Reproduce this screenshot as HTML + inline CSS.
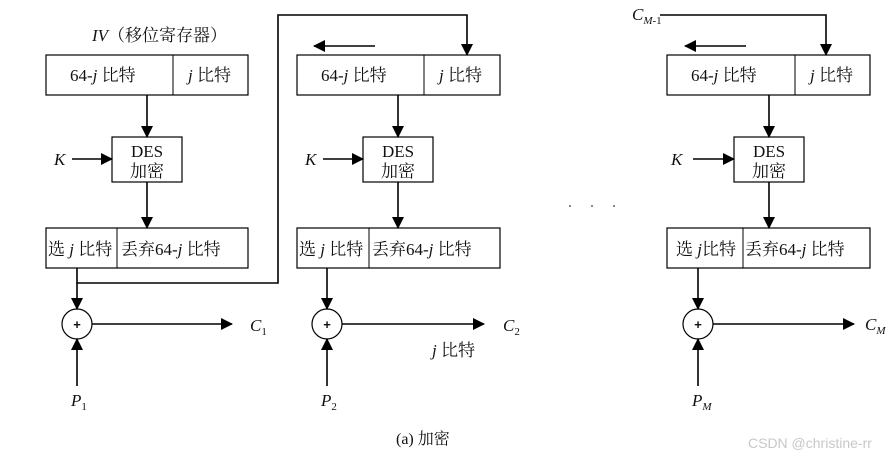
<!DOCTYPE html>
<html><head><meta charset="utf-8"><style>
html,body{margin:0;padding:0;background:#fff;width:891px;height:458px;overflow:hidden}
svg text{font-family:"Liberation Serif","Noto Serif CJK SC","Noto Sans CJK SC",serif;fill:#111}
.i{font-style:italic}
</style></head><body>
<svg width="891" height="458" viewBox="0 0 891 458" xmlns="http://www.w3.org/2000/svg">
<defs>
<marker id="a" markerWidth="12" markerHeight="12" refX="11" refY="6" orient="auto" markerUnits="userSpaceOnUse">
<path d="M0,0 L12,6 L0,12 z" fill="#000"/></marker>
</defs>
<g stroke="#000" stroke-width="1.6" fill="none">
<polyline points="77,268 77,283 278,283 278,15 467,15 467,55" marker-end="url(#a)"/>
<polyline points="660,15 826,15 826,55" marker-end="url(#a)"/>
<line x1="375" y1="46" x2="314" y2="46" marker-end="url(#a)"/>
<line x1="746" y1="46" x2="685" y2="46" marker-end="url(#a)"/>
</g>

<g stroke="#000" stroke-width="1.6" fill="none">
<rect x="46" y="55" width="202" height="40" stroke-width="1.2"/>
<line x1="173" y1="55" x2="173" y2="95" stroke-width="1"/>
<line x1="147" y1="95" x2="147" y2="137" marker-end="url(#a)"/>
<rect x="112" y="137" width="70" height="45" stroke-width="1.2"/>
<line x1="72" y1="159" x2="112" y2="159" marker-end="url(#a)"/>
<line x1="147" y1="182" x2="147" y2="228" marker-end="url(#a)"/>
<rect x="46" y="228" width="202" height="40" stroke-width="1.2"/>
<line x1="117" y1="228" x2="117" y2="268" stroke-width="1"/>
<line x1="77" y1="283" x2="77" y2="309" marker-end="url(#a)"/>
<circle cx="77" cy="324" r="15" stroke-width="1.2"/>
<line x1="92" y1="324" x2="232" y2="324" marker-end="url(#a)"/>
<line x1="77" y1="386" x2="77" y2="339" marker-end="url(#a)"/>
</g>
<g stroke="#000" stroke-width="1.6" fill="none">
<rect x="297" y="55" width="203" height="40" stroke-width="1.2"/>
<line x1="424" y1="55" x2="424" y2="95" stroke-width="1"/>
<line x1="398" y1="95" x2="398" y2="137" marker-end="url(#a)"/>
<rect x="363" y="137" width="70" height="45" stroke-width="1.2"/>
<line x1="323" y1="159" x2="363" y2="159" marker-end="url(#a)"/>
<line x1="398" y1="182" x2="398" y2="228" marker-end="url(#a)"/>
<rect x="297" y="228" width="203" height="40" stroke-width="1.2"/>
<line x1="369" y1="228" x2="369" y2="268" stroke-width="1"/>
<line x1="327" y1="268" x2="327" y2="309" marker-end="url(#a)"/>
<circle cx="327" cy="324" r="15" stroke-width="1.2"/>
<line x1="342" y1="324" x2="484" y2="324" marker-end="url(#a)"/>
<line x1="327" y1="386" x2="327" y2="339" marker-end="url(#a)"/>
</g>
<g stroke="#000" stroke-width="1.6" fill="none">
<rect x="667" y="55" width="203" height="40" stroke-width="1.2"/>
<line x1="795" y1="55" x2="795" y2="95" stroke-width="1"/>
<line x1="769" y1="95" x2="769" y2="137" marker-end="url(#a)"/>
<rect x="734" y="137" width="70" height="45" stroke-width="1.2"/>
<line x1="693" y1="159" x2="734" y2="159" marker-end="url(#a)"/>
<line x1="769" y1="182" x2="769" y2="228" marker-end="url(#a)"/>
<rect x="667" y="228" width="203" height="40" stroke-width="1.2"/>
<line x1="743" y1="228" x2="743" y2="268" stroke-width="1"/>
<line x1="698" y1="268" x2="698" y2="309" marker-end="url(#a)"/>
<circle cx="698" cy="324" r="15" stroke-width="1.2"/>
<line x1="713" y1="324" x2="854" y2="324" marker-end="url(#a)"/>
<line x1="698" y1="386" x2="698" y2="339" marker-end="url(#a)"/>
</g>

<g font-size="17">
<text x="92" y="41"><tspan class="i">IV</tspan>（移位寄存器）</text>
<text x="70" y="81">64-<tspan class="i">j</tspan>  比特</text>
<text x="188" y="81"><tspan class="i">j</tspan> 比特</text>
<text x="147" y="157" text-anchor="middle">DES</text>
<text x="147" y="177" text-anchor="middle">加密</text>
<text x="54" y="165" class="i">K</text>
<text x="48" y="255">选 <tspan class="i">j</tspan>  比特</text>
<text x="121" y="255">丢弃64-<tspan class="i">j</tspan>  比特</text>
<text x="250" y="331" class="i">C<tspan font-size="11" dy="4" font-style="normal">1</tspan></text>
<text x="71" y="406" class="i">P<tspan font-size="11" dy="4" font-style="normal">1</tspan></text>
<text x="321" y="81">64-<tspan class="i">j</tspan>  比特</text>
<text x="439" y="81"><tspan class="i">j</tspan> 比特</text>
<text x="398" y="157" text-anchor="middle">DES</text>
<text x="398" y="177" text-anchor="middle">加密</text>
<text x="305" y="165" class="i">K</text>
<text x="299" y="255">选 <tspan class="i">j</tspan>  比特</text>
<text x="372" y="255">丢弃64-<tspan class="i">j</tspan>  比特</text>
<text x="503" y="331" class="i">C<tspan font-size="11" dy="4" font-style="normal">2</tspan></text>
<text x="432" y="356"><tspan class="i">j</tspan> 比特</text>
<text x="321" y="406" class="i">P<tspan font-size="11" dy="4" font-style="normal">2</tspan></text>
<text x="691" y="81">64-<tspan class="i">j</tspan>  比特</text>
<text x="810" y="81"><tspan class="i">j</tspan> 比特</text>
<text x="769" y="157" text-anchor="middle">DES</text>
<text x="769" y="177" text-anchor="middle">加密</text>
<text x="671" y="165" class="i">K</text>
<text x="676" y="255">选 <tspan class="i">j</tspan>比特</text>
<text x="745" y="255">丢弃64-<tspan class="i">j</tspan>  比特</text>
<text x="865" y="330" class="i">C<tspan font-size="11" dy="4">M</tspan></text>
<text x="692" y="406" class="i">P<tspan font-size="11" dy="4">M</tspan></text>
<text x="632" y="20" class="i">C<tspan font-size="11" dy="4">M</tspan><tspan font-size="11" font-style="normal">-1</tspan></text>
<text x="396" y="444" font-size="16">(a)  加密</text>
</g>
<g font-size="13" font-weight="bold" text-anchor="middle">
<text x="77" y="329" style="font-family:'Liberation Sans',sans-serif">+</text>
<text x="327" y="329" style="font-family:'Liberation Sans',sans-serif">+</text>
<text x="698" y="329" style="font-family:'Liberation Sans',sans-serif">+</text>
</g>
<g fill="#333"><circle cx="570" cy="206" r="0.9"/><circle cx="592" cy="206" r="0.9"/><circle cx="614" cy="206" r="0.9"/></g>
<text x="748" y="448" font-size="14" style="font-family:'Liberation Sans',sans-serif;fill:#c8c8c8">CSDN @christine-rr</text>
</svg>
</body></html>
